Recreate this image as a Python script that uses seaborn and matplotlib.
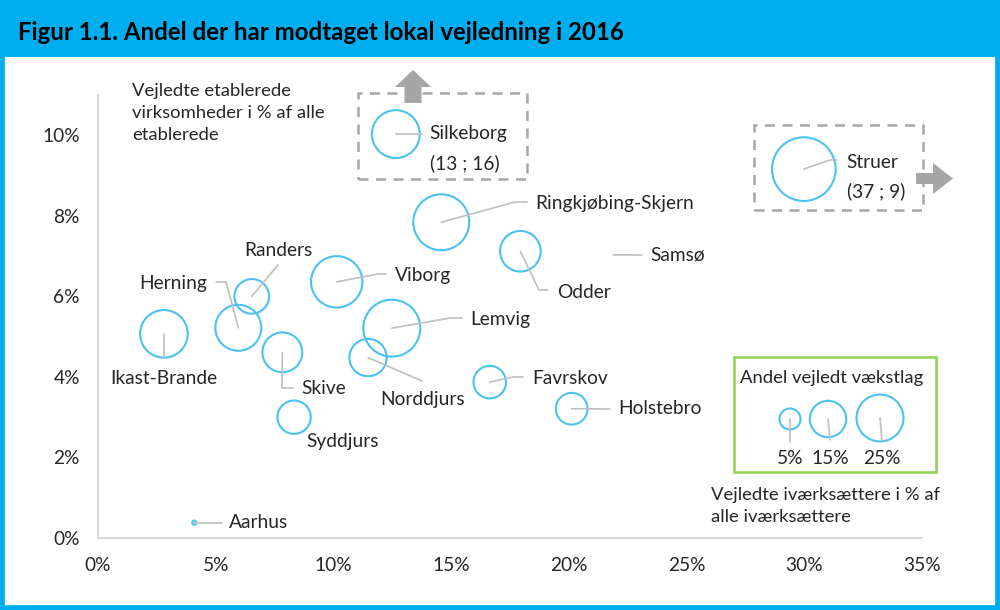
import pandas as pd
import matplotlib
matplotlib.use('Agg')
import matplotlib.pyplot as plt
import matplotlib.patches as mpatches
import seaborn as sns

# Data (x = vejledte iværksættere %, y = vejledte etablerede %,
# size = andel vejledt vækstlag %). Silkeborg and Struer are drawn inside their
# "off-chart" boxes, real values are given in the labels.
kommuner = ['Silkeborg', 'Struer', 'Ringkjøbing-Skjern', 'Odder', 'Samsø', 'Viborg',
            'Randers', 'Herning', 'Ikast-Brande', 'Lemvig', 'Norddjurs', 'Skive',
            'Syddjurs', 'Favrskov', 'Holstebro', 'Aarhus']
ivaerksaettere = [12.65, 29.98, 14.58, 17.94, 21.88, 10.14, 6.53, 5.96, 2.80, 12.48,
                  11.47, 7.83, 8.33, 16.64, 20.12, 4.09]
etablerede = [10.03, 9.16, 7.84, 7.12, 7.03, 6.36, 6.00, 5.22, 5.07, 5.21,
              4.48, 4.61, 3.00, 3.87, 3.21, 0.38]
vaekstlag = [26, 46, 35.5, 18.7, 0, 30, 13.6, 24, 25.7, 36.8, 15.8, 18, 12.6, 12, 11.4, 0.2]
faktiske = {'Silkeborg': '(13 ; 16)', 'Struer': '(37 ; 9)'}

legend_values = [5, 15, 25]
x_ticks = [0, 5, 10, 15, 20, 25, 30, 35]
y_ticks = [0, 2, 4, 6, 8, 10]

BLUE = '#00AEEF'
RING = '#4CC2F1'
GREY_LINE = '#BFBFBF'
BOX_GREY = '#A6A6A6'
GREEN = '#92D050'

sns.set_style('white')
plt.rcParams['font.family'] = ['Lato', 'DejaVu Sans']
FS = 13.8

W, H = 1000, 610
X0, X1, Y0, Y1 = 98, 922, 538, 95
fig = plt.figure(figsize=(10, 6.1), dpi=100)
ax = fig.add_axes([X0 / W, 1 - Y0 / H, (X1 - X0) / W, (Y0 - Y1) / H])
ax.set_xlim(0, 35)
ax.set_ylim(0, 11)


def d(px, py):
    # reference pixel -> data coords
    return (px - X0) / (X1 - X0) * 35, (Y0 - py) / (Y0 - Y1) * 11


def f(px, py):
    return px / W, 1 - py / H


df = pd.DataFrame({'kommune': kommuner, 'x': ivaerksaettere,
                   'y': etablerede, 'v': vaekstlag})

S_PER = 45.7  # marker area (pt^2) per percentage point
sns.scatterplot(data=df, x='x', y='y', size='v', sizes=(0, S_PER * 50),
                size_norm=(0, 50), legend=False, ax=ax, clip_on=False)
coll = ax.collections[-1]
coll.set_facecolor('none')
coll.set_edgecolor(RING)
coll.set_linewidth(1.5)

# legend bubbles inside the green box
leg_pos = [d(790, 419), d(828, 419), d(880, 418)]
leg_df = pd.DataFrame({'x': [p[0] for p in leg_pos], 'y': [p[1] for p in leg_pos],
                       'v': legend_values})
sns.scatterplot(data=leg_df, x='x', y='y', size='v', sizes=(0, S_PER * 50),
                size_norm=(0, 50), legend=False, ax=ax, clip_on=False)
coll = ax.collections[-1]
coll.set_facecolor('none')
coll.set_edgecolor(RING)
coll.set_linewidth(1.5)

# axes styling
ax.set_xticks(x_ticks)
ax.set_yticks(y_ticks)
ax.set_xticklabels([f'{t}%' for t in x_ticks], fontsize=FS)
ax.set_yticklabels([f'{t}%' for t in y_ticks], fontsize=FS)
ax.tick_params(length=0, pad=14)
ax.tick_params(axis='y', pad=13)
ax.set_xlabel('')
ax.set_ylabel('')
for s in ['top', 'right']:
    ax.spines[s].set_visible(False)
for s in ['left', 'bottom']:
    ax.spines[s].set_color('#D9D9D9')
    ax.spines[s].set_linewidth(1.5)

# labels: name -> (text position px, alignment, leader elbow points px)
labels = {
    'Silkeborg': ((429, 134), 'left', [(399, 134), (422, 134)]),
    'Struer': ((846, 162), 'left', [(830, 160), (837, 160)]),
    'Ringkjøbing-Skjern': ((535, 203), 'left', [(515, 202), (527, 202)]),
    'Samsø': ((650, 255), 'left', [(642, 255)]),
    'Odder': ((557, 292), 'left', [(539, 290), (548, 290)]),
    'Viborg': ((395, 276), 'left', [(378, 274), (386, 274)]),
    'Lemvig': ((470, 320), 'left', [(450, 318), (462, 318)]),
    'Norddjurs': ((380, 399), 'left', [(422, 381)]),
    'Favrskov': ((532, 379), 'left', [(513, 377), (523, 377)]),
    'Holstebro': ((618, 409), 'left', [(610, 409)]),
    'Randers': ((278, 251), 'center', [(278, 265)]),
    'Herning': ((207, 283), 'right', [(226, 282), (216, 282)]),
    'Ikast-Brande': ((164, 378), 'center', [(164, 358)]),
    'Skive': ((301, 389), 'left', [(282, 388), (293, 388)]),
    'Syddjurs': ((306, 442), 'left', []),
    'Aarhus': ((229, 522), 'left', [(197, 523), (222, 523)]),
}
for name, xv, yv in zip(kommuner, ivaerksaettere, etablerede):
    (tx, ty), ha, pts = labels[name]
    if pts:
        xs = [xv] + [d(*p)[0] for p in pts]
        ys = [yv] + [d(*p)[1] for p in pts]
        ax.plot(xs, ys, color=GREY_LINE, lw=1.2, zorder=1, clip_on=False)
    fig.text(*f(tx, ty), name, ha=ha, va='center', fontsize=FS)
    if name in faktiske:
        fig.text(*f(tx + 1, ty + 29), faktiske[name], ha='left', va='center', fontsize=FS)

# legend box
for (lx, ly), (ex, ey) in zip([(790, 419), (828, 419), (880, 418)],
                              [(790, 442), (830, 440), (882, 441)]):
    ax.plot(*zip(d(lx, ly), d(ex, ey)), color=GREY_LINE, lw=1.2, clip_on=False)
for v, lx in zip(legend_values, [790, 830, 882]):
    fig.text(*f(lx, 458), f'{v}%', ha='center', va='center', fontsize=FS)
fig.text(*f(740, 378), 'Andel vejledt vækstlag', ha='left', va='center', fontsize=FS - 0.5)
fig.patches.append(mpatches.Rectangle(f(734, 472), 202 / W, 115 / H, fill=False,
                                      edgecolor=GREEN, lw=1.8, transform=fig.transFigure))

# dashed "off-chart" boxes and arrows
fig.patches.append(mpatches.Rectangle(f(358, 179), 169 / W, 86 / H, fill=False,
                                      edgecolor=BOX_GREY, lw=1.8, ls=(0, (4, 3)),
                                      transform=fig.transFigure))
fig.patches.append(mpatches.Rectangle(f(754, 210), 169 / W, 85 / H, fill=False,
                                      edgecolor=BOX_GREY, lw=1.8, ls=(0, (4, 3)),
                                      transform=fig.transFigure))
up = [(404.5, 103), (421.5, 103), (421.5, 87), (431, 87), (413, 70), (395, 87), (404.5, 87)]
right = [(916, 173), (933, 173), (933, 163), (953, 178.5), (933, 194), (933, 184), (916, 184)]
for poly in (up, right):
    fig.patches.append(mpatches.Polygon([f(*p) for p in poly], closed=True,
                                        facecolor=BOX_GREY, edgecolor='none',
                                        transform=fig.transFigure))

# axis titles
for i, line in enumerate(['Vejledte etablerede', 'virksomheder i % af alle', 'etablerede']):
    fig.text(*f(132, 91 + 22 * i), line, ha='left', va='center', fontsize=FS - 0.5)
for i, line in enumerate(['Vejledte iværksættere i % af', 'alle iværksættere']):
    fig.text(*f(711, 495 + 22 * i), line, ha='left', va='center', fontsize=FS - 0.5)

# title bar and frame
fig.patches.append(mpatches.Rectangle((0, 1 - 57 / H), 1, 57 / H, facecolor=BLUE,
                                      edgecolor='none', transform=fig.transFigure, zorder=0))
fig.patches.append(mpatches.Rectangle((0, 0), 1, 1, fill=False, edgecolor=BLUE,
                                      lw=7, transform=fig.transFigure))
fig.text(*f(18, 32), 'Figur 1.1. Andel der har modtaget lokal vejledning i 2016',
         ha='left', va='center', fontsize=17.3, fontweight='bold', color='black')

fig.savefig('out.png', dpi=100, facecolor='white')
